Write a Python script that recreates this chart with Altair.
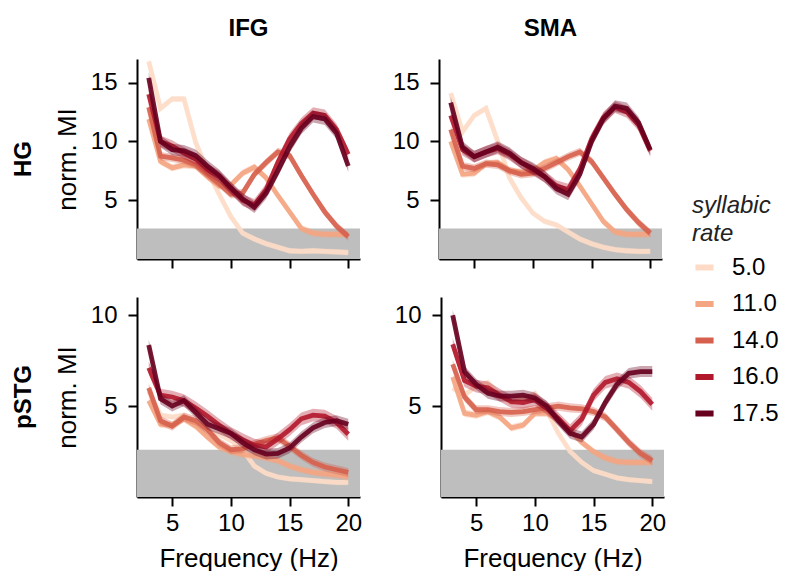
import altair as alt
import pandas as pd

FONT = "Liberation Sans"

# frequency grid (Hz) and syllabic-rate conditions
FREQ = list(range(3, 21))
RATES = ["5.0", "11.0", "14.0", "16.0", "17.5"]
COLORS = ["#fddbc7", "#f4a582", "#d6604d", "#b2182b", "#67001f"]

X_RANGE = [2, 21]
X_TICKS = [5, 10, 15, 20]
CHANCE = 2.6
Y_MAX = {"HG": 17, "pSTG": 11}
Y_TICKS = {"HG": [5, 10, 15], "pSTG": [5, 10]}

# normalised MI per frequency, one list per syllabic rate
IFG_HG = {
    "5.0": [16.8, 12.8, 13.6, 13.6, 9.9, 7.5, 5.5, 3.6, 2.2, 1.7, 1.3, 1.0, 0.7, 0.65, 0.7, 0.65, 0.6, 0.55],
    "11.0": [11.9, 8.3, 7.75, 8.0, 7.9, 7.0, 6.2, 6.3, 7.3, 7.8, 6.9, 5.4, 4.0, 2.6, 2.2, 2.1, 2.1, 2.1],
    "14.0": [12.9, 8.75, 8.6, 8.4, 8.0, 7.2, 6.4, 5.5, 5.6, 7.2, 8.2, 9.1, 8.8, 7.1, 5.5, 4.0, 2.8, 1.9],
    "16.0": [14.0, 10.0, 9.6, 9.0, 8.5, 7.6, 7.0, 6.0, 5.0, 4.6, 5.9, 8.2, 10.2, 11.5, 12.4, 12.2, 11.0, 8.9],
    "17.5": [15.4, 10.0, 9.3, 9.2, 8.8, 7.9, 7.1, 6.05, 5.1, 4.4, 5.6, 7.5, 9.5, 11.1, 12.1, 11.9, 10.7, 7.9],
}
SMA_HG = {
    "5.0": [14.1, 10.8, 12.2, 12.8, 10.0, 6.9, 5.2, 3.9, 3.2, 2.9, 2.3, 1.7, 1.3, 1.0, 0.8, 0.7, 0.65, 0.65],
    "11.0": [10.0, 7.2, 7.3, 8.1, 8.2, 7.5, 7.4, 7.5, 8.2, 8.55, 7.6, 6.2, 4.7, 3.2, 2.3, 2.1, 2.1, 2.1],
    "14.0": [11.0, 7.9, 7.7, 8.1, 8.0, 7.5, 7.2, 7.3, 7.7, 8.2, 8.7, 9.1, 8.3, 6.9, 5.5, 4.2, 3.1, 2.2],
    "16.0": [12.2, 9.3, 8.7, 9.1, 9.4, 8.9, 8.2, 7.6, 7.0, 6.2, 5.9, 7.6, 10.2, 12.0, 12.9, 12.5, 11.4, 9.2],
    "17.5": [13.3, 9.5, 8.7, 9.1, 9.5, 9.0, 8.2, 7.7, 7.0, 6.0, 5.5, 7.2, 10.0, 11.9, 13.0, 12.8, 11.6, 9.3],
}
IFG_PSTG = {
    "5.0": [5.8, 4.5, 4.4, 4.5, 4.0, 3.6, 3.45, 3.1, 2.6, 1.7, 1.3, 1.1, 1.0, 0.95, 0.9, 0.85, 0.8, 0.8],
    "11.0": [5.3, 4.0, 3.95, 4.3, 3.9, 3.3, 2.75, 2.5, 2.35, 2.27, 2.15, 2.0, 1.7, 1.5, 1.35, 1.27, 1.2, 1.1],
    "14.0": [6.0, 4.2, 3.9, 4.4, 4.2, 3.7, 3.0, 2.6, 2.65, 2.9, 3.1, 3.25, 2.8, 2.3, 1.9, 1.65, 1.5, 1.35],
    "16.0": [7.1, 5.6, 5.5, 5.3, 4.9, 4.45, 3.95, 3.5, 3.15, 2.85, 2.75, 3.2, 3.7, 4.3, 4.5, 4.45, 4.1, 3.45],
    "17.5": [8.36, 5.4, 5.0, 5.3, 4.65, 4.0, 3.75, 3.5, 3.0, 2.6, 2.36, 2.4, 2.7, 3.3, 3.8, 4.1, 4.2, 4.0],
}
SMA_PSTG = {
    "5.0": [6.0, 5.6, 6.1, 6.3, 5.6, 5.2, 5.4, 5.7, 4.8, 3.5, 2.5, 1.9, 1.45, 1.25, 1.05, 0.95, 0.9, 0.85],
    "11.0": [6.6, 4.6, 4.5, 4.7, 4.4, 3.8, 3.95, 4.6, 4.6, 4.3, 3.65, 3.0, 2.5, 2.15, 1.95, 1.9, 1.9, 1.9],
    "14.0": [7.3, 5.5, 4.8, 4.8, 4.7, 4.65, 4.7, 4.8, 4.9, 5.0, 4.9, 4.85, 4.7, 4.4, 3.7, 3.0, 2.4, 2.0],
    "16.0": [8.4, 6.4, 6.1, 6.0, 5.6, 5.25, 5.2, 5.35, 4.9, 4.3, 3.65, 4.3, 5.6, 6.3, 6.5, 6.3, 5.8, 5.1],
    "17.5": [10.0, 6.9, 6.2, 5.7, 5.55, 5.55, 5.6, 5.45, 5.0, 4.2, 3.5, 3.3, 4.0, 5.2, 6.2, 6.8, 6.9, 6.9],
}

# standard error of the mean per rate (same order as RATES)
SEM = {
    "HG": [0.25, 0.3, 0.35, 0.5, 0.5],
    "pSTG": [0.15, 0.2, 0.25, 0.35, 0.3],
}

PANELS = [
    ("IFG", "HG", IFG_HG),
    ("SMA", "HG", SMA_HG),
    ("IFG", "pSTG", IFG_PSTG),
    ("SMA", "pSTG", SMA_PSTG),
]

color_scale = alt.Scale(domain=RATES, range=COLORS)
legend = alt.Legend(
    title=["syllabic", "rate"],
    orient="none",
    legendX=555,
    legendY=135,
    titleFontStyle="italic",
    titleFontWeight="normal",
    titleFontSize=24,
    titleFont=FONT,
    titleColor="#222222",
    titleLineHeight=28,
    titlePadding=9,
    labelFontSize=24,
    labelFont=FONT,
    labelColor="black",
    labelOffset=15,
    symbolType="stroke",
    symbolStrokeWidth=6,
    symbolSize=330,
    symbolOpacity=1,
    rowPadding=11.5,
)


def make_panel(region, band, values, top, left):
    rows = []
    for i, r in enumerate(RATES):
        s = SEM[band][i]
        for f, v in zip(FREQ, values[r]):
            rows.append({"freq": f, "rate": r, "mi": v, "lo": v - s, "hi": v + s})
    df = pd.DataFrame(rows)

    x_scale = alt.Scale(domain=X_RANGE, nice=False, zero=False)
    y_scale = alt.Scale(domain=[0, Y_MAX[band]], nice=False)
    x_axis = alt.Axis(
        values=X_TICKS,
        labels=not top,
        title=None if top else "Frequency (Hz)",
    )
    y_axis = alt.Axis(values=Y_TICKS[band], title="norm. MI" if left else None)

    chance = pd.DataFrame({"x0": [X_RANGE[0]], "x1": [X_RANGE[1]], "y0": [0], "y1": [CHANCE]})
    layers = [
        alt.Chart(chance).mark_rect(color="#bebebe").encode(
            x=alt.X("x0:Q", scale=x_scale, axis=x_axis),
            x2="x1:Q",
            y=alt.Y("y0:Q", scale=y_scale, axis=y_axis),
            y2="y1:Q",
        )
    ]
    base = alt.Chart(df)
    for i, r in enumerate(RATES):
        sub = base.transform_filter(alt.datum.rate == r)
        # shaded error band, then the mean curve on top
        layers.append(
            sub.mark_area(opacity=0.35, clip=True).encode(
                x=alt.X("freq:Q", scale=x_scale, axis=x_axis),
                y=alt.Y("lo:Q", scale=y_scale, axis=y_axis),
                y2="hi:Q",
                fill=alt.value(COLORS[i]),
            )
        )
        layers.append(
            sub.mark_line(strokeWidth=4.8, opacity=0.9, clip=True).encode(
                x=alt.X("freq:Q", scale=x_scale, axis=x_axis),
                y=alt.Y("mi:Q", scale=y_scale, axis=y_axis),
                color=alt.Color("rate:N", scale=color_scale, legend=legend),
            )
        )
    if left:
        layers.append(
            alt.Chart(pd.DataFrame({"t": [band]}))
            .mark_text(angle=270, fontSize=24, fontWeight="bold", font=FONT, color="black")
            .encode(text="t:N", x=alt.value(-113), y=alt.value(100))
        )
    chart = alt.layer(*layers).properties(width=223, height=200)
    if top:
        chart = chart.properties(
            title=alt.TitleParams(
                region, fontSize=24, fontWeight="bold", font=FONT, offset=18, frame="group"
            )
        )
    return chart


p = [make_panel(reg, b, vals, b == "HG", reg == "IFG") for reg, b, vals in PANELS]

chart = (
    alt.vconcat(
        alt.hconcat(p[0], p[1], spacing=32),
        alt.hconcat(p[2], p[3], spacing=32),
        spacing=28,
    )
    .properties(padding={"left": 12, "top": 17, "right": 0, "bottom": 0})
    .configure_view(stroke=None)
    .configure_axis(
        grid=False,
        domainColor="black",
        domainWidth=2,
        tickColor="black",
        tickWidth=2,
        tickSize=9,
        labelFont=FONT,
        labelFontSize=24,
        labelColor="black",
        titleFont=FONT,
        titleFontSize=26,
        titleFontWeight="normal",
        titleColor="black",
    )
    .configure_axisX(labelPadding=5, titlePadding=10)
    .configure_axisY(labelPadding=11, titlePadding=10)
    .configure_title(color="black")
)

chart.save("out.html", embed_options={"renderer": "svg", "actions": False})
